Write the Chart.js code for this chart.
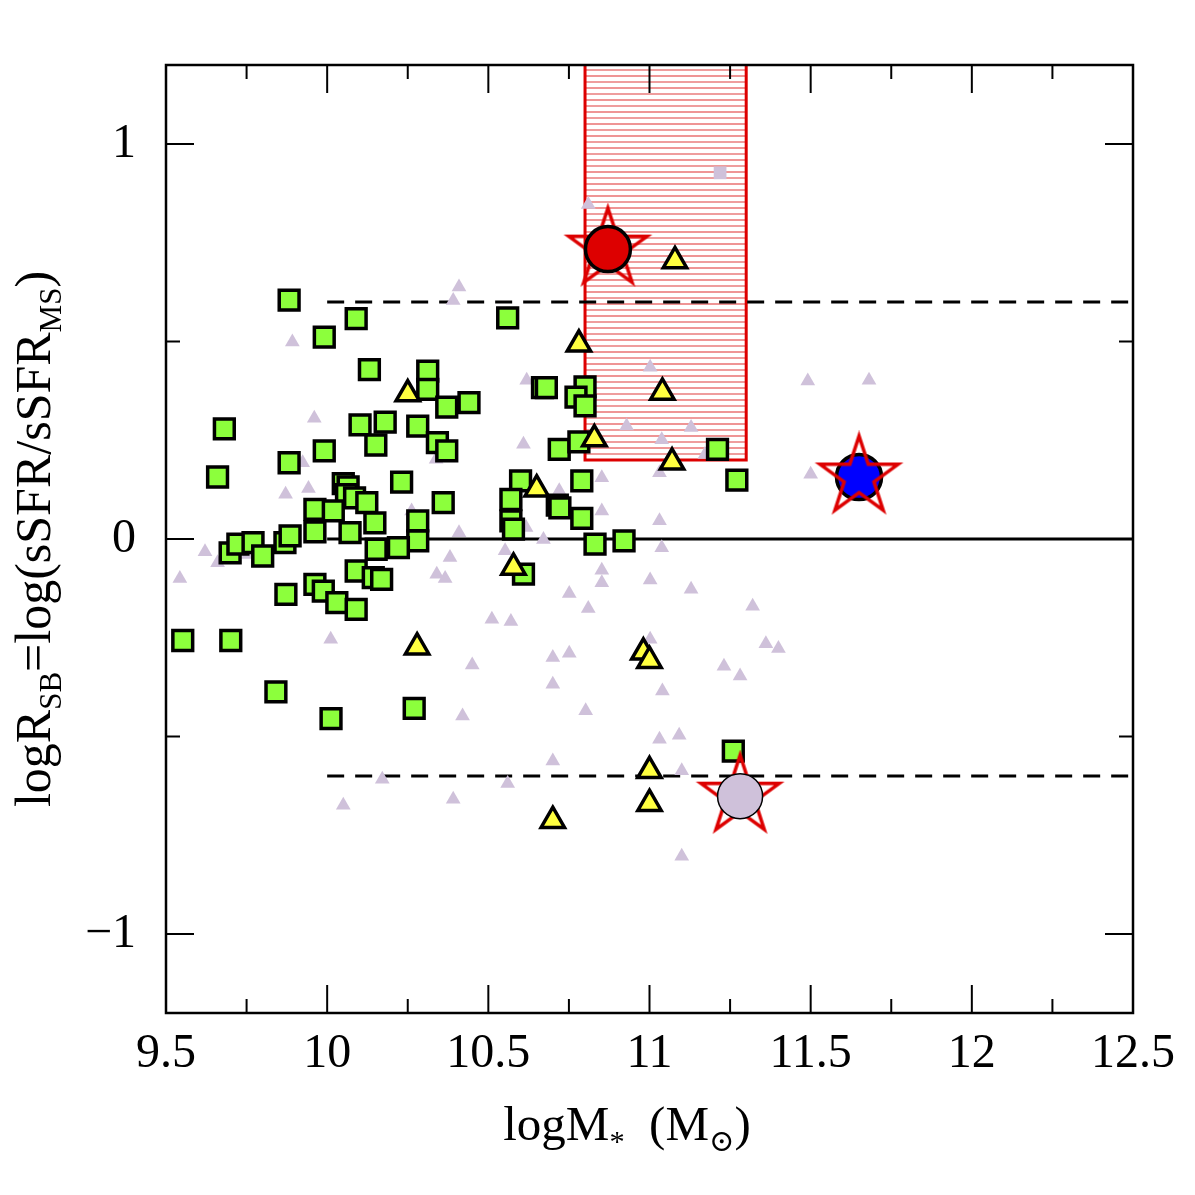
<!DOCTYPE html>
<html>
<head>
<meta charset="utf-8">
<script src="https://cdn.jsdelivr.net/npm/chart.js@4.4.0/dist/chart.umd.min.js"></script>
<style>
  body { margin: 0; background: #fff; }
</style>
</head>
<body>
<canvas id="sbChart" width="1195" height="1195"></canvas>
<script>
// green squares
const squareX = [9.882, 10.090, 9.991, 10.131, 10.312, 10.312, 10.371, 10.440, 9.681, 10.102,
  10.180, 10.151, 10.281, 10.342, 10.371, 9.991, 9.882, 9.660, 10.231, 10.360,
  10.050, 10.065, 10.060, 10.085, 10.123, 9.962, 10.019, 9.962, 10.071, 10.148,
  10.281, 10.281, 10.221, 10.152, 9.699, 9.723, 9.770, 9.800, 9.869, 9.885,
  10.090, 10.143, 10.169, 9.872, 9.962, 9.988, 10.030, 10.090, 9.552, 9.701,
  9.841, 10.012, 10.270, 10.560, 10.668, 10.680, 10.800, 10.772, 10.800, 10.720,
  10.781, 11.211, 11.271, 10.790, 10.600, 10.570, 10.714, 10.722, 10.790, 10.570,
  10.578, 10.831, 10.921, 10.609, 11.260];
const squareY = [0.605, 0.558, 0.511, 0.429, 0.425, 0.379, 0.334, 0.345, 0.279, 0.289,
  0.296, 0.238, 0.286, 0.244, 0.223, 0.223, 0.193, 0.157, 0.144, 0.092,
  0.140, 0.132, 0.112, 0.104, 0.092, 0.075, 0.071, 0.018, 0.016, 0.041,
  0.046, -0.005, -0.022, -0.026, -0.035, -0.013, -0.009, -0.043, -0.009, 0.008,
  -0.081, -0.098, -0.102, -0.140, -0.115, -0.132, -0.161, -0.178, -0.257, -0.257,
  -0.387, -0.455, -0.429, 0.560, 0.383, 0.383, 0.385, 0.359, 0.337, 0.227,
  0.246, 0.227, 0.149, 0.147, 0.147, 0.100, 0.086, 0.079, 0.052, 0.046,
  0.025, -0.013, -0.005, -0.089, -0.537];

// yellow triangles
const yellowX = [10.250, 10.781, 11.040, 10.829, 11.070, 10.650, 10.578, 11.079, 10.981, 11.000,
  11.000, 11.000, 10.700, 10.279];
const yellowY = [0.367, 0.493, 0.371, 0.253, 0.194, 0.126, -0.072, 0.704, -0.287, -0.308,
  -0.587, -0.670, -0.713, -0.274];

// light grey triangles
const greyX = [10.409, 10.391, 9.892, 9.960, 9.924, 9.871, 9.942, 10.338, 10.262, 10.409,
  9.621, 9.660, 9.543, 10.381, 10.340, 10.366, 9.755, 10.511, 10.011, 10.450,
  10.420, 10.171, 10.050, 10.391, 10.619, 11.002, 11.491, 11.681, 10.929, 11.129,
  11.038, 10.609, 11.031, 10.852, 10.720, 10.852, 11.031, 10.617, 10.671, 10.552,
  11.038, 10.852, 11.002, 11.500, 11.172, 10.810, 10.852, 11.129, 10.751, 10.810,
  11.320, 10.570, 11.002, 11.361, 11.400, 10.700, 10.751, 11.231, 11.281, 10.700,
  11.040, 10.802, 11.031, 11.092, 10.700, 11.100, 10.560, 11.100];
const greyY = [0.638, 0.604, 0.499, 0.306, 0.193, 0.113, 0.128, 0.202, 0.071, 0.016,
  -0.032, -0.060, -0.100, -0.047, -0.089, -0.100, -0.039, -0.203, -0.254, -0.319,
  -0.448, -0.608, -0.674, -0.659, 0.402, 0.435, 0.400, 0.402, 0.286, 0.282,
  0.251, 0.240, 0.168, 0.155, 0.122, 0.071, 0.046, 0.029, -0.001, -0.030,
  -0.022, -0.079, -0.104, 0.164, 0.214, 0.847, -0.111, -0.127, -0.138, -0.176,
  -0.170, -0.209, -0.254, -0.265, -0.277, -0.300, -0.289, -0.322, -0.347, -0.368,
  -0.385, -0.435, -0.507, -0.497, -0.562, -0.587, -0.619, -0.803];

// light grey square
const greySquareX = [11.219];
const greySquareY = [0.927];

// big circles with stars
const bigX = [10.871, 11.650, 11.281];
const bigY = [0.734, 0.157, -0.651];
const bigColors = ['#dd0000', '#0000ff', '#cfc1da'];
const bigBorders = [3.5, 3.5, 1.5];

// reference lines and box
const refX = [10, 12.5];
const zeroY = [0, 0];
const upperY = [0.6, 0.6];
const lowerY = [-0.6, -0.6];
const boxX = [10.8, 11.3];
const boxY = [0.2, 1.2];

// ticks
const xMajorTicks = [9.5, 10, 10.5, 11, 11.5, 12, 12.5];
const xTickLabels = ['9.5', '10', '10.5', '11', '11.5', '12', '12.5'];
const xMinorTicks = [9.75, 10.25, 10.75, 11.25, 11.75, 12.25];
const yMajorTicks = [-1, 0, 1];
const yTickLabels = ['\u22121', '0', '1'];
const yMinorTicks = [-0.5, 0.5];

const serif = "'Liberation Serif', 'DejaVu Serif', serif";
const pts = (xs, ys) => xs.map((v, i) => ({ x: v, y: ys[i] }));

function makeStar(R, lw, color) {
  const c = document.createElement('canvas');
  const s = Math.ceil(2 * R + 2 * lw + 4);
  c.width = s; c.height = s;
  const g = c.getContext('2d');
  g.translate(s / 2, s / 2);
  g.beginPath();
  for (let i = 0; i < 10; i++) {
    const r = i % 2 === 0 ? R : R * 0.382;
    const a = -Math.PI / 2 + i * Math.PI / 5;
    if (i === 0) g.moveTo(r * Math.cos(a), r * Math.sin(a));
    else g.lineTo(r * Math.cos(a), r * Math.sin(a));
  }
  g.closePath();
  g.lineWidth = lw;
  g.lineJoin = 'miter';
  g.strokeStyle = color;
  g.stroke();
  return c;
}
const starImg = makeStar(41, 3.5, '#dd0000');

const hatchBox = {
  id: 'hatchBox',
  beforeDatasetsDraw(chart) {
    const { ctx, chartArea: a, scales: { x, y } } = chart;
    const l = x.getPixelForValue(boxX[0]);
    const r = x.getPixelForValue(boxX[1]);
    const b = y.getPixelForValue(boxY[0]);
    const t = Math.max(a.top, y.getPixelForValue(boxY[1]));
    ctx.save();
    ctx.beginPath();
    ctx.rect(a.left, a.top, a.width, a.height);
    ctx.clip();
    ctx.strokeStyle = 'rgba(236, 140, 140, 0.85)';
    ctx.lineWidth = 2.2;
    for (let py = b - 6; py > t; py -= 12) {
      ctx.beginPath(); ctx.moveTo(l, py); ctx.lineTo(r, py); ctx.stroke();
    }
    ctx.strokeStyle = 'rgba(220, 20, 20, 0.9)';
    ctx.lineWidth = 1.2;
    for (let py = b - 12; py > t; py -= 12) {
      ctx.beginPath(); ctx.moveTo(l, py); ctx.lineTo(r, py); ctx.stroke();
    }
    ctx.strokeStyle = '#dd0000';
    ctx.lineWidth = 3;
    ctx.beginPath();
    ctx.moveTo(l, a.top); ctx.lineTo(l, b); ctx.lineTo(r, b); ctx.lineTo(r, a.top);
    ctx.stroke();
    ctx.restore();
  }
};

function drawRich(ctx, parts, cx, baseline, size) {
  const fonts = parts.map(p => (p.sub ? size * 0.62 : size) + 'px ' + serif);
  let w = 0;
  const widths = parts.map((p, i) => { ctx.font = fonts[i]; const m = ctx.measureText(p.t).width; w += m; return m; });
  let px = cx - w / 2;
  ctx.textAlign = 'left';
  ctx.textBaseline = 'alphabetic';
  parts.forEach((p, i) => {
    ctx.font = fonts[i];
    ctx.fillText(p.t, px, baseline + (p.sub ? size * 0.22 : 0));
    px += widths[i];
  });
}

const frameAndTitles = {
  id: 'frameAndTitles',
  afterDraw(chart) {
    const { ctx, chartArea: a, scales: { x, y } } = chart;
    ctx.save();
    ctx.strokeStyle = '#000';
    ctx.lineWidth = 2;
    const seg = (x1, y1, x2, y2) => { ctx.beginPath(); ctx.moveTo(x1, y1); ctx.lineTo(x2, y2); ctx.stroke(); };
    xMajorTicks.forEach(v => { const p = x.getPixelForValue(v); seg(p, a.bottom, p, a.bottom - 28); seg(p, a.top, p, a.top + 28); });
    xMinorTicks.forEach(v => { const p = x.getPixelForValue(v); seg(p, a.bottom, p, a.bottom - 14); seg(p, a.top, p, a.top + 14); });
    yMajorTicks.forEach(v => { const p = y.getPixelForValue(v); seg(a.left, p, a.left + 28, p); seg(a.right, p, a.right - 28, p); });
    yMinorTicks.forEach(v => { const p = y.getPixelForValue(v); seg(a.left, p, a.left + 14, p); seg(a.right, p, a.right - 14, p); });
    ctx.lineWidth = 2.5;
    ctx.strokeRect(a.left, a.top, a.width, a.height);

    ctx.fillStyle = '#000';
    drawRich(ctx, [{ t: 'logM' }, { t: '*', sub: true }, { t: '  (M' }, { t: '\u2299', sub: true }, { t: ')' }], 627, 1140, 49);
    ctx.translate(50, (a.top + a.bottom) / 2);
    ctx.rotate(-Math.PI / 2);
    drawRich(ctx, [{ t: 'logR' }, { t: 'SB', sub: true }, { t: '=log(sSFR/sSFR' }, { t: 'MS', sub: true }, { t: ')' }], 0, 0, 50);
    ctx.restore();
  }
};

const lineDs = (ys, dash) => ({
  type: 'line',
  data: pts(refX, ys),
  borderColor: '#000',
  borderWidth: 3,
  borderDash: dash,
  pointRadius: 0,
  showLine: true,
  fill: false,
  order: 20
});

const pick = (arr, idx) => idx.map(i => arr[i]);

new Chart(document.getElementById('sbChart'), {
  type: 'scatter',
  data: {
    datasets: [
      lineDs(zeroY, []),
      lineDs(upperY, [17, 11]),
      lineDs(lowerY, [17, 11]),
      {
        data: pts(greyX, greyY),
        pointStyle: 'triangle',
        pointRadius: 8.5,
        backgroundColor: '#cfc1da',
        borderWidth: 0,
        order: 15
      },
      {
        data: pts(greySquareX, greySquareY),
        pointStyle: 'rect',
        pointRadius: 9,
        backgroundColor: '#cfc1da',
        borderWidth: 0,
        order: 15
      },
      {
        data: pts(squareX, squareY),
        pointStyle: 'rect',
        pointRadius: 14,
        backgroundColor: '#8cff3c',
        borderColor: '#000',
        borderWidth: 3.5,
        order: 10
      },
      {
        data: pts(yellowX, yellowY),
        pointStyle: 'triangle',
        pointRadius: 13.5,
        backgroundColor: '#ffff40',
        borderColor: '#000',
        borderWidth: 3.5,
        order: 8
      },
      {
        data: pts(pick(bigX, [0, 2]), pick(bigY, [0, 2])),
        pointStyle: starImg,
        order: 6
      },
      {
        data: pts(bigX, bigY),
        pointStyle: 'circle',
        pointRadius: 22.5,
        backgroundColor: bigColors,
        borderColor: '#000',
        borderWidth: bigBorders,
        order: 4
      },
      {
        data: pts(pick(bigX, [1]), pick(bigY, [1])),
        pointStyle: starImg,
        order: 2
      }
    ]
  },
  options: {
    responsive: false,
    animation: false,
    events: [],
    layout: { padding: { left: 0, right: 62, top: 65, bottom: 0 } },
    plugins: { legend: { display: false }, tooltip: { enabled: false } },
    scales: {
      x: {
        type: 'linear',
        min: 9.5,
        max: 12.5,
        grid: { display: false, drawTicks: false },
        border: { display: false },
        afterBuildTicks: s => { s.ticks = xMajorTicks.map(v => ({ value: v })); },
        afterFit: s => { s.height = 182; },
        ticks: {
          padding: 13,
          color: '#000',
          font: { family: serif, size: 48 },
          maxRotation: 0,
          autoSkip: false,
          callback: v => xTickLabels[xMajorTicks.indexOf(v)]
        }
      },
      y: {
        type: 'linear',
        min: -1.2,
        max: 1.2,
        grid: { display: false, drawTicks: false },
        border: { display: false },
        afterBuildTicks: s => { s.ticks = yMajorTicks.map(v => ({ value: v })); },
        afterFit: s => { s.width = 166; },
        ticks: {
          padding: 30,
          color: '#000',
          font: { family: serif, size: 48 },
          autoSkip: false,
          callback: v => yTickLabels[yMajorTicks.indexOf(v)]
        }
      }
    }
  },
  plugins: [hatchBox, frameAndTitles]
});
</script>
</body>
</html>
